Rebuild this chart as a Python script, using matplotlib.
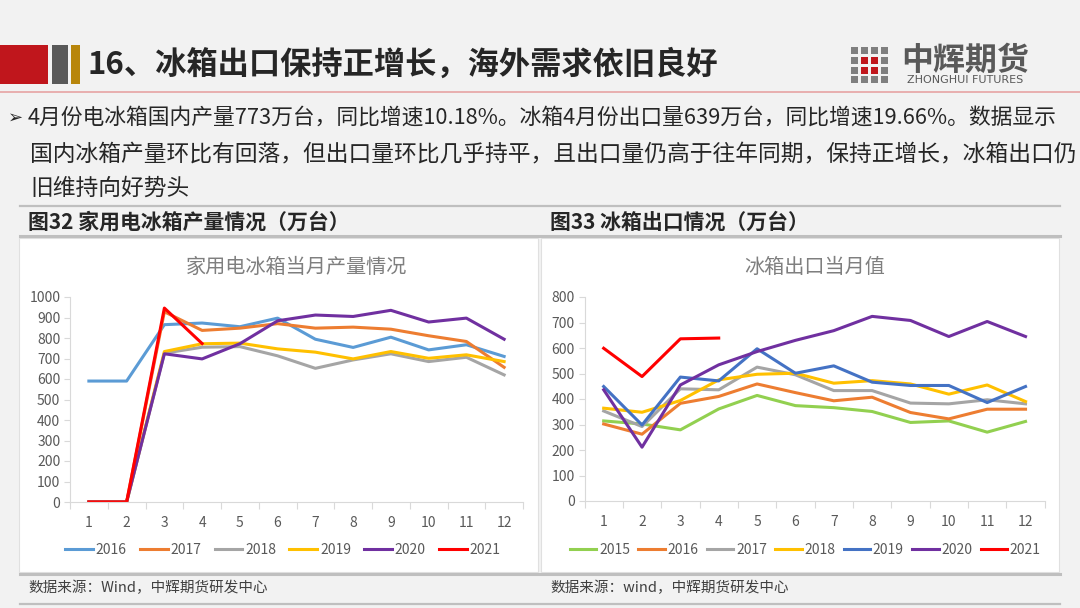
import matplotlib
matplotlib.use('Agg')
from matplotlib import pyplot as plt
from matplotlib.patches import Rectangle
from matplotlib.lines import Line2D

plt.rcParams['font.family'] = ['Noto Sans CJK SC', 'DejaVu Sans']

months = list(range(1, 13))
month_labels = [str(m) for m in months]

# 家用电冰箱当月产量 (万台)
prod_years = ['2016', '2017', '2018', '2019', '2020', '2021']
prod_2016 = [590, 590, 865, 873, 855, 897, 794, 754, 804, 742, 767, 710]
prod_2017 = [0, 0, 928, 837, 848, 870, 848, 853, 843, 811, 783, 657]
prod_2018 = [0, 0, 726, 755, 758, 713, 652, 693, 723, 685, 706, 620]
prod_2019 = [0, 0, 734, 772, 775, 747, 731, 698, 734, 701, 718, 685]
prod_2020 = [0, 0, 723, 698, 772, 884, 912, 905, 935, 878, 897, 794]
prod_2021 = [0, 0, 946, 773]
prod_colors = ['#5B9BD5', '#ED7D31', '#A5A5A5', '#FFC000', '#7030A0', '#FF0000']

# 冰箱出口当月值 (万台)
exp_years = ['2015', '2016', '2017', '2018', '2019', '2020', '2021']
exp_2015 = [314, 302, 279, 361, 414, 374, 366, 351, 308, 314, 270, 312]
exp_2016 = [302, 262, 383, 410, 459, 425, 393, 407, 347, 322, 360, 360]
exp_2017 = [353, 292, 440, 436, 525, 495, 433, 433, 384, 381, 397, 381]
exp_2018 = [364, 348, 394, 475, 497, 501, 462, 472, 459, 419, 455, 390]
exp_2019 = [449, 298, 486, 471, 597, 501, 530, 466, 453, 453, 386, 449]
exp_2020 = [436, 211, 455, 534, 586, 630, 668, 724, 708, 645, 704, 645]
exp_2021 = [599, 488, 636, 639]
exp_colors = ['#92D050', '#ED7D31', '#A5A5A5', '#FFC000', '#4472C4', '#7030A0', '#FF0000']

BG = '#f2f2f2'
fig = plt.figure(figsize=(10.8, 6.08), dpi=100)
fig.patch.set_facecolor(BG)

W, H = 1080.0, 608.0


def fx(px):
    return px / W


def fy(py):
    return 1 - py / H


def rect(x0, y0, x1, y1, color, ec='none', lw=0, z=1):
    fig.patches.append(Rectangle((fx(x0), fy(y1)), fx(x1) - fx(x0), fy(y0) - fy(y1),
                                 transform=fig.transFigure, facecolor=color,
                                 edgecolor=ec, lw=lw, zorder=z))


def hline(y, x0, x1, color, lw):
    fig.lines.append(Line2D([fx(x0), fx(x1)], [fy(y), fy(y)], transform=fig.transFigure,
                            color=color, lw=lw))


# header
rect(0, 45, 48, 84, '#C0161C')
rect(52, 45, 68, 84, '#595959')
rect(71, 45, 80, 84, '#B8860B')
fig.text(fx(88), fy(65), '16、冰箱出口保持正增长，海外需求依旧良好', fontsize=22.5,
         fontweight='bold', color='#262626', va='center', ha='left')
hline(92, 0, 1080, '#e6a3a3', 1.2)

# logo
for cx, col in [(851, '#7f7f7f'), (861, '#C0161C'), (871, '#C0161C'), (881, '#7f7f7f')]:
    for j, cy in enumerate([47, 57, 67, 76]):
        c = col if j in (1, 2) else '#7f7f7f'
        rect(cx, cy, cx + 7, cy + 7, c)
fig.text(fx(965), fy(61), '中辉期货', fontsize=23, fontweight='bold', color='#595959',
         ha='center', va='center')
fig.text(fx(965), fy(80), 'ZHONGHUI FUTURES', fontsize=8, color='#595959',
         ha='center', va='center', family=['DejaVu Sans'])

# bullet text
fig.text(fx(8), fy(118), '➢', fontsize=13, color='#262626', va='center', ha='left',
         family=['DejaVu Sans'])
fig.text(fx(28), fy(118), '4月份电冰箱国内产量773万台，同比增速10.18%。冰箱4月份出口量639万台，同比增速19.66%。数据显示',
         fontsize=15.7, color='#262626', va='center', ha='left')
fig.text(fx(30), fy(155), '国内冰箱产量环比有回落，但出口量环比几乎持平，且出口量仍高于往年同期，保持正增长，冰箱出口仍',
         fontsize=16.4, color='#262626', va='center', ha='left')
fig.text(fx(30), fy(188), '旧维持向好势头', fontsize=16.4, color='#262626', va='center', ha='left')

# dividers and captions
hline(206, 20, 1060, '#bfbfbf', 1.6)
hline(236, 20, 1060, '#bfbfbf', 2.2)
hline(574, 20, 1060, '#bfbfbf', 2.2)
hline(604, 20, 1060, '#bfbfbf', 1.6)
fig.text(fx(28), fy(222), '图32 家用电冰箱产量情况（万台）', fontsize=15, fontweight='bold',
         color='#262626', va='center')
fig.text(fx(550), fy(222), '图33 冰箱出口情况（万台）', fontsize=15, fontweight='bold',
         color='#262626', va='center')
fig.text(fx(28), fy(588), '数据来源：Wind，中辉期货研发中心', fontsize=10.5, color='#404040', va='center')
fig.text(fx(550), fy(588), '数据来源：wind，中辉期货研发中心', fontsize=10.5, color='#404040', va='center')

# white panels (behind the axes)
rect(19, 238, 538, 572, 'white', ec='#e0e0e0', lw=0.8, z=-5)
rect(541, 238, 1059, 572, 'white', ec='#e0e0e0', lw=0.8, z=-5)


def style_axes(ax, ymax, step):
    ax.set_facecolor('none')
    ax.set_xlim(0.5, 12.5)
    ax.set_ylim(0, ymax)
    ax.set_yticks(range(0, ymax + 1, step))
    ax.set_xticks(months)
    ax.set_xticklabels(month_labels)
    ax.set_xticks([m + 0.5 for m in range(0, 13)], minor=True)
    ax.tick_params(axis='x', which='major', length=0, pad=10, labelsize=10, labelcolor='#595959')
    ax.tick_params(axis='x', which='minor', length=5, color='#d9d9d9', width=0.8)
    ax.tick_params(axis='y', length=4, color='#d9d9d9', width=0.8, labelsize=10,
                   labelcolor='#595959', pad=3)
    for s in ['top', 'right']:
        ax.spines[s].set_visible(False)
    for s in ['left', 'bottom']:
        ax.spines[s].set_color('#d9d9d9')
        ax.spines[s].set_linewidth(0.8)


# left chart
ax1 = fig.add_axes([fx(70), fy(502), fx(523) - fx(70), fy(297) - fy(502)])
prod_series = [prod_2016, prod_2017, prod_2018, prod_2019, prod_2020, prod_2021]
for name, vals, col in zip(prod_years, prod_series, prod_colors):
    ax1.plot(months[:len(vals)], vals, color=col, lw=2.2, label=name)
style_axes(ax1, 1000, 100)
ax1.set_title('家用电冰箱当月产量情况', fontsize=14.5, color='#7f7f7f', pad=17)
ax1.legend(loc='center', bbox_to_anchor=(0.47, -0.235), ncol=6, frameon=False,
           fontsize=10, labelcolor='#595959', handlelength=2.0, handletextpad=0.2,
           columnspacing=0.95)

# right chart
ax2 = fig.add_axes([fx(584.5), fy(501), fx(1044.7) - fx(584.5), fy(297) - fy(501)])
exp_series = [exp_2015, exp_2016, exp_2017, exp_2018, exp_2019, exp_2020, exp_2021]
for name, vals, col in zip(exp_years, exp_series, exp_colors):
    ax2.plot(months[:len(vals)], vals, color=col, lw=2.2, label=name)
style_axes(ax2, 800, 100)
ax2.set_title('冰箱出口当月值', fontsize=14.5, color='#7f7f7f', pad=17)
ax2.legend(loc='center', bbox_to_anchor=(0.48, -0.24), ncol=7, frameon=False,
           fontsize=10, labelcolor='#595959', handlelength=1.9, handletextpad=0.2,
           columnspacing=0.6)

fig.savefig('out.png', dpi=100, facecolor=BG)
